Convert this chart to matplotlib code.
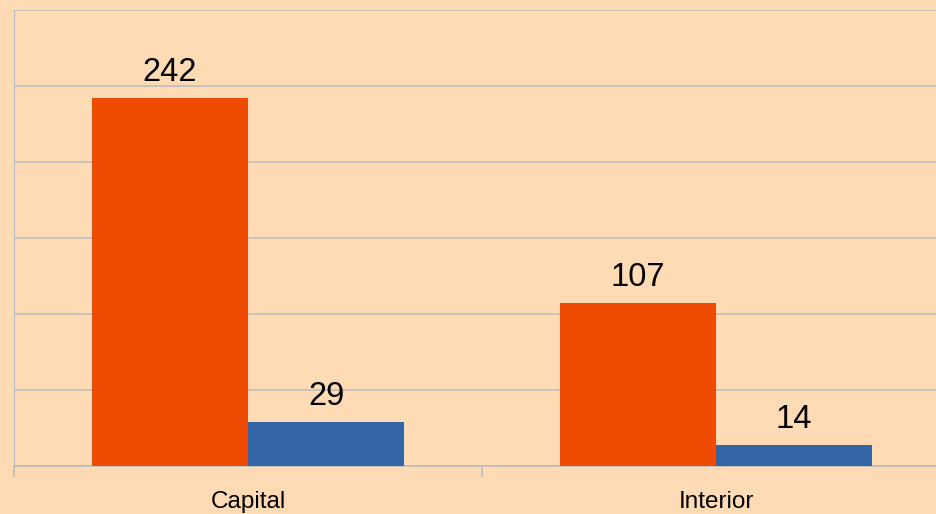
import matplotlib.pyplot as plt
import numpy as np

categories = ["Capital", "Interior"]
serie_orange = [242, 107]
serie_bleue = [29, 14]

plt.rcParams["font.family"] = ["Liberation Sans", "DejaVu Sans"]

fond = "#FFDBB5"
gris = "#BEBDBC"

fig = plt.figure(figsize=(9.37, 5.14), dpi=100)
fig.patch.set_facecolor(fond)
# l'axe depasse a droite de l'image, comme l'original
ax = fig.add_axes([14 / 937, 48 / 514, 936 / 937, 456 / 514])
ax.set_facecolor(fond)

x = np.arange(len(categories))
largeur = 1 / 3

barres1 = ax.bar(x - largeur / 2, serie_orange, largeur, color="#EE4B03", zorder=3)
barres2 = ax.bar(x + largeur / 2, serie_bleue, largeur, color="#3465A4", zorder=3)

for barres in (barres1, barres2):
    for b in barres:
        ax.text(b.get_x() + b.get_width() / 2, b.get_height() + 6.5, str(int(b.get_height())),
                ha="center", va="bottom", fontsize=23.5, color="black")

ax.set_ylim(0, 300)
ax.set_xlim(-0.5, 1.5)
ax.set_yticks(np.arange(0, 301, 50))
ax.set_yticklabels([])
ax.tick_params(axis="y", length=0)
ax.grid(axis="y", color=gris, linewidth=1.2, zorder=0)

ax.set_xticks(x)
ax.set_xticklabels(categories, fontsize=17.5)
ax.tick_params(axis="x", length=0, pad=18)
ax.set_xticks([-0.5, 0.5, 1.5], minor=True)
ax.tick_params(axis="x", which="minor", length=8, color=gris, width=1.2)

for cote in ["top", "right"]:
    ax.spines[cote].set_visible(False)
ax.spines["left"].set_color("#B4BCCB")
ax.spines["bottom"].set_color(gris)
ax.spines["bottom"].set_linewidth(1.2)

plt.savefig("out.png", dpi=100, facecolor=fond)
plt.close()
